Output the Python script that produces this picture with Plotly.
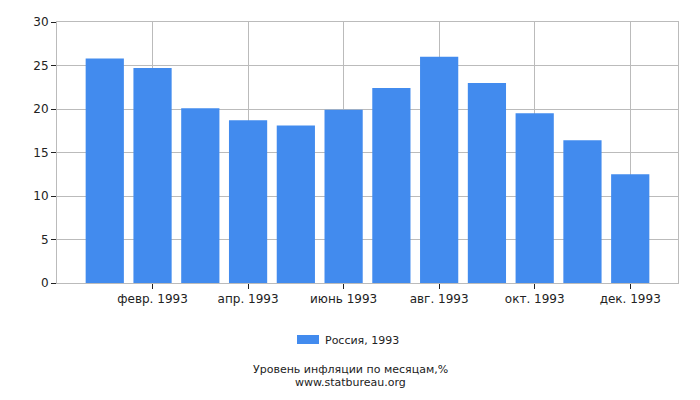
import plotly.graph_objects as go

months = ["янв. 1993", "февр. 1993", "март 1993", "апр. 1993", "май 1993", "июнь 1993",
          "июль 1993", "авг. 1993", "сент. 1993", "окт. 1993", "нояб. 1993", "дек. 1993"]
values = [25.8, 24.7, 20.1, 18.7, 18.1, 19.9, 22.4, 26.0, 23.0, 19.5, 16.4, 12.5]
tick_labels = ["февр. 1993", "апр. 1993", "июнь 1993", "авг. 1993", "окт. 1993", "дек. 1993"]
series_name = "Россия, 1993"
title_text = "Уровень инфляции по месяцам,%"
source_text = "www.statbureau.org"

font = "DejaVu Sans, Verdana, sans-serif"
bar_color = "#428bee"

# the page body adds an 8px offset; work in window pixels and subtract it
OFF = 8
FW, FH = 700 - OFF, 400 - OFF
# plot area in window pixels: left 57, right 678, top 22, bottom 283
L, R, T, B = 57, 678, 22, 283
W, H = R - L, B - T


def px_x(x):
    return (x - L) / W


def px_y(y):
    return (B - y) / H


fig = go.Figure()
fig.add_trace(go.Bar(x=months, y=values, name=series_name, showlegend=False,
                     marker=dict(color=bar_color, line=dict(width=0))))

fig.update_layout(
    width=FW, height=FH,
    margin=dict(l=L - OFF, r=700 - R, t=T - OFF, b=400 - B, autoexpand=False),
    paper_bgcolor="white", plot_bgcolor="white",
    bargap=0.2,
    font=dict(family=font, size=12, color="#222222"),
    showlegend=False,
    xaxis=dict(type="category", range=[-1, 12], tickmode="array",
               tickvals=tick_labels, ticktext=tick_labels,
               showgrid=True, gridcolor="#bbbbbb", gridwidth=1,
               ticks="outside", ticklen=5, tickcolor="#222222",
               showline=True, linecolor="#bbbbbb", mirror=True,
               automargin=False, tickfont=dict(size=12)),
    yaxis=dict(range=[0, 30], dtick=5, showgrid=True, gridcolor="#bbbbbb",
               ticks="outside", ticklen=5, tickcolor="#222222",
               showline=True, linecolor="#bbbbbb", mirror=True,
               automargin=False, zeroline=False, tickfont=dict(size=12)),
    shapes=[
        dict(type="rect", xref="paper", yref="paper",
             x0=px_x(297), x1=px_x(319), y0=px_y(344), y1=px_y(335),
             fillcolor=bar_color, line=dict(width=0)),
    ],
    annotations=[
        dict(text=series_name, xref="paper", yref="paper",
             x=px_x(323), y=px_y(340), xanchor="left", yanchor="middle",
             showarrow=False, font=dict(size=11, color="#222222")),
        dict(text=title_text, xref="paper", yref="paper",
             x=px_x(350), y=px_y(369), xanchor="center", yanchor="middle",
             showarrow=False, font=dict(size=11, color="#222222")),
        dict(text=source_text, xref="paper", yref="paper",
             x=px_x(350), y=px_y(382), xanchor="center", yanchor="middle",
             showarrow=False, font=dict(size=11, color="#222222")),
    ],
)

fig.write_html("out.html")
